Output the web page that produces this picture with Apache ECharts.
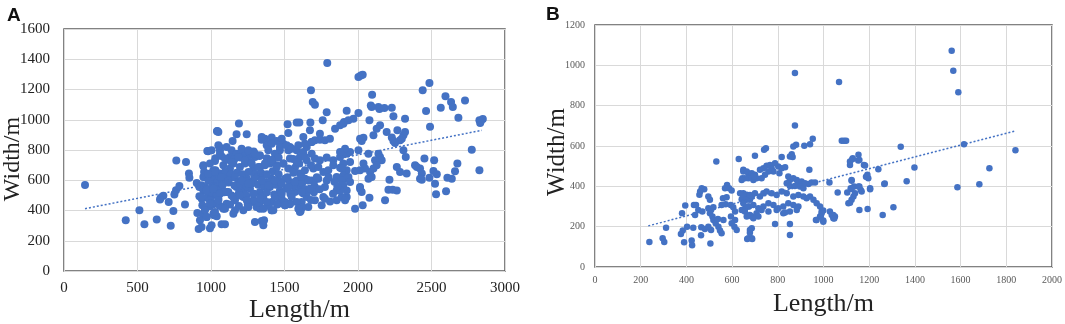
<!DOCTYPE html>
<html><head><meta charset="utf-8">
<script src="https://cdn.jsdelivr.net/npm/echarts@6/dist/echarts.min.js"></script>
<style>html,body{margin:0;padding:0;background:#fff}#c{width:1065px;height:324px}</style>
</head><body><div id="c"></div>
<script>
// Panel A: [Length (m), Width (m)]
const pointsA = [
[143,569],[420,335],[513,401],[547,309],[631,340],[726,300],[744,397],[658,485],[676,498],[653,472],[712,456],[751,505],[762,534],[785,562],[764,730],[830,721],[823,439],[850,644],[853,617],[907,384],[916,278],[993,282],[948,692],[980,791],[1027,727],[1041,924],[903,582],[921,555],[937,567],[948,534],[959,555],[971,542],[953,655],[953,621],[921,494],[937,478],[971,485],[1005,498],[1027,522],[941,434],[959,412],[993,428],[1016,441],[944,375],[971,357],[1021,368],[1039,362],[1005,630],[1027,604],[1016,567],[1039,555],[1030,666],[1057,644],[1057,820],
[1791,1375],[1680,1195],[1692,1117],[1707,1100],[1787,1049],[1923,1060],[1190,976],[1043,926],[1521,970],[1583,981],[1601,981],[1676,981],[1760,996],[1673,930],[1741,908],[1844,941],[1878,963],[1905,985],[1243,904],[1147,860],[1526,912],[975,793],[1050,831],[1061,798],[1106,820],[1140,798],[1129,754],[1174,776],[1209,787],[1231,765],[1265,771],[1299,754],[1345,868],[1367,875],[1413,882],[1401,842],[1447,860],[1481,875],[1492,842],[1537,820],[1526,798],[1469,798],[1435,776],[1390,798],[1583,798],[1628,787],[1651,820],[1685,853],[1707,864],[1741,868],[1775,864],[1809,875],[1605,754],[1651,732],[1707,743],[1741,732],[1787,750],[1832,732],[1878,754],[1923,776],
[948,699],[993,710],[1016,666],[1050,644],[1084,699],[1129,677],[1152,710],[1197,688],[1231,710],[1265,721],[1288,677],[1333,688],[1367,699],[1401,710],[1447,699],[1492,710],[1526,677],[1571,683],[1605,644],[1639,666],[1696,677],[1730,688],[1764,655],[1798,666],[1832,699],[1878,683],[1923,666],
[948,622],[982,599],[1027,610],[1061,588],[1106,610],[1152,622],[1186,588],[1243,610],[1288,599],[1345,622],[1379,588],[1413,610],[1458,599],[1503,610],[1537,588],[1583,599],[1639,610],[1685,599],[1730,610],[1787,599],[1855,622],[1912,610],
[1016,533],[1072,544],[1118,522],[1174,555],[1220,533],[1265,544],[1333,522],[1401,555],[1469,533],[1515,544],[1571,522],[1605,555],[1662,533],[1707,555],[1775,555],[1855,533],[1923,489],
[936,489],[993,467],[1050,478],[1106,445],[1163,467],[1220,489],[1288,456],[1356,489],[1413,456],[1481,478],[1537,445],[1617,456],[1651,489],[1707,467],[1764,489],[1855,467],[1912,478],
[959,401],[1016,379],[1084,412],[1152,379],[1220,401],[1310,423],[1413,401],[1503,434],[1583,456],[1605,390],[1662,423],[1753,434],[1775,478],
[1004,302],[1072,309],[1095,309],[1299,324],[1345,331],[1356,302],[925,335],[970,357],[936,291],
[1288,467],[1333,412],[1361,335],[1413,401],[1458,445],[1503,456],[1537,441],[1601,412],[1610,397],[1628,512],[1651,523],
[2003,1283],[2019,1292],[2032,1298],[2486,1243],[2440,1195],[2096,1166],[2595,1155],[2728,1128],[2633,1118],[2645,1084],[2563,1080],[2087,1095],[2093,1084],[2139,1084],[2146,1071],[2180,1078],[2230,1080],[2463,1058],[2241,1023],[2320,1007],[2683,1014],[1969,1007],[2003,1045],[2078,996],[1900,974],[1935,996],[2150,963],[2127,941],[2105,897],[2490,954],[2826,996],[2831,979],[2849,1005],[2835,990],[2195,919],[2268,930],[2320,919],[2309,897],[2298,875],[2286,864],[2230,882],[2241,860],[2252,846],[2014,875],[2025,860],[2037,881],[2774,802],[2826,666],[2309,798],[2325,754],[2452,743],[2518,732],[2676,710],[2388,699],[2400,688],[2422,677],[2434,644],[2422,610],[2434,604],[2264,688],[2286,655],[2331,644],[2513,661],[2536,639],[2486,617],[2660,659],[2608,617],[2638,610],[2214,604],[2207,538],[2236,538],[2264,533],[2524,577],[2531,507],[2599,527],[2184,467],[2078,485],[2032,434],[1980,412],
[2003,798],[2071,776],[1946,787],[1912,809],[1878,787],[2139,776],[2150,754],[2161,732],[2116,732],[2105,677],[2082,655],[2093,622],[2071,610],[2127,699],[2037,710],[2048,677],[2014,666],[1980,661],[1946,721],[1900,710],[1889,677],[1900,632],[1935,622],[1889,599],[1946,588],[1900,566],[1923,533],[1889,489],[1912,467],[1878,533],[2014,544],[2025,522],[2014,555],
[1010,575],[1045,590],[1080,570],[1120,585],[1160,565],[1200,575],[1240,560],[1280,580],[1320,570],[1360,560],[1400,585],[1440,570],[1010,650],[1060,625],[1095,655],[1135,640],[1175,650],[1215,640],[1255,655],[1300,640],[1340,650],[1380,640],[1420,660],[1460,640],[1030,745],[1070,760],[1110,735],[1160,740],[1200,750],[1250,735],[1290,790],[1330,760],[1380,745],[1420,735],[1460,750],[1000,520],[1040,505],[1090,520],[1140,500],[1190,515],[1240,500],[1290,510],[1340,495],[1380,520],[1430,505],[1470,515],[1010,450],[1060,430],[1130,440],[1190,430],[1250,440],[1330,450],[1390,430],[1450,440],[1540,510],[1560,560],[1520,620],[1560,650],[1620,580],[1660,600],[1700,590],[1560,740],[1600,710],[1680,700],[1720,620],[1800,620],[1840,590],[1860,560],[1830,510],[1810,460],[1700,520],[1740,540],[1640,540],[1680,470],[1620,420],
[1050,919],[1174,904],[1345,886],[1628,886],
[1208,809],[1254,798],[1299,776],[1333,765],[1379,831],[1413,842],[1469,820],[1515,831],[1549,809],[1594,831],[1639,842],[1685,853],
[1004,798],[1061,776],[1095,743],[1140,721],[1186,754],[1231,732],[1277,710],[1322,688],[1367,710],[1413,732],[1447,688],[1492,710],[1537,743],[1583,721],[1639,754],[1685,776],
[982,643],[1027,655],[1072,621],[1118,599],[1163,621],[1208,599],[1254,577],[1299,621],[1345,599],[1390,566],[1435,599],[1481,577],[1526,555],[1571,588],[1617,621],[1662,599],
[970,533],[1016,544],[1061,511],[1106,522],[1152,489],[1197,500],[1243,467],[1288,511],[1333,478],[1379,456],[1435,489],[1481,511],[1549,489],[1617,522],[1673,544],
[1095,412],[1163,401],[1254,423],[1356,412],[1424,401],[1503,434],[1594,412],[993,445],[1050,467],[1027,390]
];
// Panel A trend line endpoints
const trendA = [[143,412],[2842,930]];

// Panel B: [Length (m), Width (m)]
const pointsB = [
[238,124],[296,142],[303,124],[311,195],[390,123],[423,131],[425,108],[505,116],[531,523],[629,535],[395,305],[381,267],[433,308],[442,308],[438,258],[403,200],[430,195],[384,181],[376,164],[465,197],[481,189],[464,157],[452,283],[470,275],[467,391],[478,386],[457,358],[460,374],[496,349],[503,333],[496,291],[508,283],[518,296],[503,267],[514,250],[518,233],[528,217],[540,200],[547,181],[554,167],[508,184],[496,200],[538,238],[562,233],[554,308],[572,311],[560,341],[576,346],[578,407],[587,391],[598,379],[569,391],[594,308],[605,296],[613,275],[595,250],[613,233],[598,217],[610,200],[620,184],[642,283],[657,291],[642,336],[649,366],[664,358],[678,333],[686,349],[674,300],[686,250],[678,184],[671,142],[686,142],[649,473],[645,440],[671,465],[686,449],[693,432],[700,552],
[875,962],[1068,917],[875,702],[1080,626],[1090,626],[1099,626],[953,636],[941,609],[916,601],[880,606],[868,598],[861,559],[853,548],[865,545],[748,589],[740,581],[817,545],[938,482],
[649,482],[664,473],[686,465],[700,457],[722,482],[737,490],[751,502],[766,506],[773,490],[781,473],[759,473],[744,457],[729,440],[707,440],[693,448],[671,440],[656,440],[642,432],
[802,498],[817,490],[832,495],[807,465],[788,515],
[846,449],[853,432],[868,440],[883,432],[890,415],[904,424],[919,415],[934,412],[948,419],[963,419],[839,415],[853,402],[875,402],[897,399],[912,391],[1026,419],
[1116,523],[1128,539],[1153,556],[1157,531],[1177,506],[1192,457],[1196,440],[1186,448],[1123,432],[1134,399],[1119,391],[1153,399],[1163,382],[1204,391],[1266,412],
[1138,366],[1131,349],[1123,333],[1109,316],[1104,369],[1062,369],[1157,283],[1193,288],[1259,258],
[635,366],[649,349],[664,333],[678,357],[700,366],[722,349],[737,366],[751,374],[773,366],[795,357],[817,374],[839,366],[868,349],[890,357],[912,349],[926,341],[941,349],[956,333],[970,316],[985,300],[992,275],[985,250],[970,233],[999,225],
[1028,275],[1036,258],[1043,242],[1050,250],
[649,316],[671,300],[693,308],[715,291],[737,300],[759,316],[781,308],[802,291],[824,300],[846,316],[868,308],[890,300],
[656,275],[678,258],[707,266],[729,283],[759,275],[795,283],[824,266],[853,275],[883,283],
[664,250],[693,242],[715,250],[788,213],[853,213],[853,159],[832,270],[686,192],[678,170],[666,139],[688,139],
[1561,1072],[1568,973],[1590,867],[1338,596],[1615,609],[1840,579],[1726,490],[1398,493],[1240,485],[1682,410],[1586,396],[1364,425],[1268,414],[1306,296],
[1116,506],[1126,534],[1152,528],[1182,503],[1189,448],[1204,385],[1167,374],[1157,399],[1123,428],[1123,387],[1116,319],
[999,280],[992,266],[988,250],[967,233],[999,230],[1043,258],[1047,241]
];
const trendB = [[233,204],[1840,675]];

const xTicksA = {min:0, max:3000, interval:500};
const yTicksA = {min:0, max:1600, interval:200};
const xTicksB = {min:0, max:2000, interval:200};
const yTicksB = {min:0, max:1200, interval:200};

const BLUE = '#4472C4';
const chart = echarts.init(document.getElementById('c'), null, {renderer:'canvas'});
const serif = '"Liberation Serif","Times New Roman",serif';
const plain = v => String(v);

function xAx(t, gi, fs, col, margin, gap, pad){
  return {gridIndex:gi, type:'value', min:t.min, max:t.max, interval:t.interval,
    name:'Length/m', nameLocation:'middle', nameGap:gap, nameMoveOverlap:false,
    nameTextStyle:{fontFamily:serif, fontSize:26, color:'#222', padding:pad},
    axisLine:{show:false}, axisTick:{show:false},
    axisLabel:{fontFamily:serif, fontSize:fs, color:col, margin:margin, formatter:plain},
    splitLine:{show:true, lineStyle:{color:'#d9d9d9', width:1}}};
}
function yAx(t, gi, fs, col, margin, gap, nfs, pad){
  return {gridIndex:gi, type:'value', min:t.min, max:t.max, interval:t.interval,
    name:'Width/m', nameLocation:'middle', nameGap:gap, nameMoveOverlap:false,
    nameTextStyle:{fontFamily:serif, fontSize:nfs, color:'#222', padding:pad},
    axisLine:{show:false}, axisTick:{show:false},
    axisLabel:{fontFamily:serif, fontSize:fs, color:col, margin:margin, formatter:plain},
    splitLine:{show:true, lineStyle:{color:'#d9d9d9', width:1}}};
}

chart.setOption({
  animation:false,
  backgroundColor:'#fff',
  title:[
    {text:'A', left:2, top:1, textStyle:{fontFamily:'"Liberation Sans",Arial,sans-serif', fontWeight:'bold', fontSize:19, color:'#111'}},
    {text:'B', left:541, top:0, textStyle:{fontFamily:'"Liberation Sans",Arial,sans-serif', fontWeight:'bold', fontSize:19, color:'#111'}}
  ],
  grid:[
    {left:64, top:29, width:441, height:242, containLabel:false, outerBoundsMode:'none', show:true, borderColor:'#595959', borderWidth:1.5, backgroundColor:'#fff'},
    {left:595, top:25, width:457, height:242, containLabel:false, outerBoundsMode:'none', show:true, borderColor:'#595959', borderWidth:1.5, backgroundColor:'#fff'}
  ],
  xAxis:[ xAx(xTicksA,0,15,'#222',10,26,[0,0,0,30]), xAx(xTicksB,1,10,'#595959',8,24,[0,0,0,0]) ],
  yAxis:[ yAx(yTicksA,0,15,'#222',14,39,24,[0,18,0,0]), yAx(yTicksB,1,10,'#595959',10,25,25,[0,12,0,0]) ],
  series:[
    {type:'scatter', xAxisIndex:0, yAxisIndex:0, data:pointsA, symbolSize:8, itemStyle:{color:BLUE, opacity:1}, z:2},
    {type:'line', xAxisIndex:0, yAxisIndex:0, data:trendA, showSymbol:false, symbol:'none', lineStyle:{color:BLUE, width:1.5, type:[2,2]}, z:3},
    {type:'scatter', xAxisIndex:1, yAxisIndex:1, data:pointsB, symbolSize:6.5, itemStyle:{color:BLUE, opacity:1}, z:2},
    {type:'line', xAxisIndex:1, yAxisIndex:1, data:trendB, showSymbol:false, symbol:'none', lineStyle:{color:BLUE, width:1.5, type:[2,2]}, z:3}
  ]
});
</script>
</body></html>
